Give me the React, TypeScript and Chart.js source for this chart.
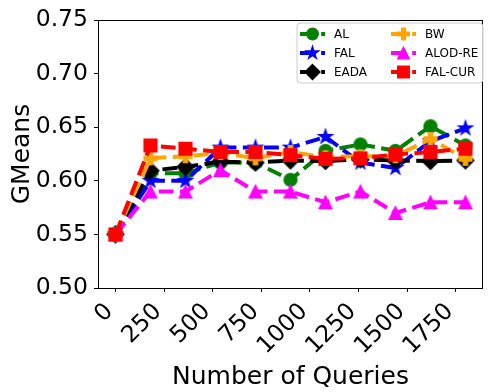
import React, { useEffect, useRef } from 'react';
import { Chart, registerables } from 'chart.js';

Chart.register(...registerables);

// ---- data ----
const QUERIES = [0, 180, 360, 540, 720, 900, 1080, 1260, 1440, 1620, 1800];
const AL = [0.55, 0.607, 0.607, 0.617, 0.617, 0.601, 0.628, 0.634, 0.628, 0.651, 0.633];
const FAL = [0.55, 0.6, 0.6, 0.631, 0.631, 0.631, 0.641, 0.617, 0.612, 0.637, 0.649];
const EADA = [0.55, 0.6095, 0.613, 0.618, 0.617, 0.619, 0.6185, 0.62, 0.619, 0.6185, 0.619];
const BW = [0.55, 0.621, 0.623, 0.626, 0.621, 0.627, 0.622, 0.623, 0.623, 0.639, 0.6205];
const ALOD_RE = [0.55, 0.59, 0.59, 0.61, 0.59, 0.59, 0.58, 0.59, 0.57, 0.58, 0.58];
const FAL_CUR = [0.55, 0.633, 0.63, 0.627, 0.627, 0.624, 0.6205, 0.621, 0.6245, 0.627, 0.63];
const SERIES_NAMES = ['AL', 'FAL', 'EADA', 'BW', 'ALOD-RE', 'FAL-CUR'];
const SERIES_VALUES = [AL, FAL, EADA, BW, ALOD_RE, FAL_CUR];
const X_TICKS = [0, 250, 500, 750, 1000, 1250, 1500, 1750];
const Y_TICKS = [0.5, 0.55, 0.6, 0.65, 0.7, 0.75];
const X_TITLE = 'Number of Queries';
const Y_TITLE = 'GMeans';

// ---- styles ----
const COLORS = ['#008000', '#0000ff', '#000000', '#ffa500', '#ff00ff', '#ff0000'];
const MARKERS = ['o', '*', 'D', 'P', '^', 's'];
const MS = 13;
const DASH = [14.8, 6.4];
const FONT = "'DejaVu Sans', sans-serif";

function drawMarker(ctx: CanvasRenderingContext2D, m: string, cx: number, cy: number, color: string, ms: number) {
  const h = ms / 2;
  ctx.save();
  ctx.fillStyle = color;
  ctx.strokeStyle = color;
  ctx.lineWidth = 1.2;
  ctx.setLineDash([]);
  ctx.lineJoin = 'miter';
  ctx.beginPath();
  if (m === 'o') {
    ctx.arc(cx, cy, h, 0, Math.PI * 2);
  } else if (m === 's') {
    ctx.rect(cx - h, cy - h, ms, ms);
  } else if (m === 'D') {
    const d = h * 1.3;
    ctx.moveTo(cx, cy - d);
    ctx.lineTo(cx + d, cy);
    ctx.lineTo(cx, cy + d);
    ctx.lineTo(cx - d, cy);
    ctx.closePath();
  } else if (m === '^') {
    ctx.moveTo(cx, cy - h);
    ctx.lineTo(cx + h, cy + h);
    ctx.lineTo(cx - h, cy + h);
    ctx.closePath();
  } else if (m === '*') {
    const R = h * 1.15;
    for (let i = 0; i < 10; i++) {
      const r = i % 2 ? R * 0.382 : R;
      const a = -Math.PI / 2 + (i * Math.PI) / 5;
      const px = cx + r * Math.cos(a);
      const py = cy + r * Math.sin(a);
      if (i === 0) ctx.moveTo(px, py);
      else ctx.lineTo(px, py);
    }
    ctx.closePath();
  } else if (m === 'P') {
    const u = h / 3;
    const pts = [[-1, -3], [1, -3], [1, -1], [3, -1], [3, 1], [1, 1], [1, 3], [-1, 3], [-1, 1], [-3, 1], [-3, -1], [-1, -1]];
    pts.forEach(([a, b], i) => {
      if (i === 0) ctx.moveTo(cx + a * u, cy + b * u);
      else ctx.lineTo(cx + a * u, cy + b * u);
    });
    ctx.closePath();
  }
  ctx.fill();
  ctx.stroke();
  ctx.restore();
}

function markerCanvas(m: string, color: string): HTMLCanvasElement {
  const c = document.createElement('canvas');
  c.width = 24;
  c.height = 24;
  const ctx = c.getContext('2d')!;
  drawMarker(ctx, m, 12, 12, color, MS);
  return c;
}

const framePlugin = {
  id: 'frameAndLegend',
  afterDraw(chart: any) {
    const { ctx, chartArea } = chart;
    ctx.save();
    // frame
    ctx.strokeStyle = '#000';
    ctx.lineWidth = 1;
    ctx.setLineDash([]);
    ctx.strokeRect(Math.round(chartArea.left) + 0.5, Math.round(chartArea.top) + 0.5,
      Math.round(chartArea.right - chartArea.left) - 1, Math.round(chartArea.bottom - chartArea.top));
    // legend
    const bx = 297, by = 23, bw = 186, bh = 60, rad = 4;
    ctx.beginPath();
    ctx.moveTo(bx + rad, by);
    ctx.arcTo(bx + bw, by, bx + bw, by + bh, rad);
    ctx.arcTo(bx + bw, by + bh, bx, by + bh, rad);
    ctx.arcTo(bx, by + bh, bx, by, rad);
    ctx.arcTo(bx, by, bx + bw, by, rad);
    ctx.closePath();
    ctx.fillStyle = 'rgba(255,255,255,0.8)';
    ctx.fill();
    ctx.strokeStyle = '#cccccc';
    ctx.lineWidth = 1;
    ctx.stroke();
    const colX = [300, 391];
    const rowY = [34, 53, 72];
    ctx.font = `12px ${FONT}`;
    ctx.textBaseline = 'middle';
    ctx.textAlign = 'left';
    SERIES_NAMES.forEach((name, i) => {
      const x0 = colX[Math.floor(i / 3)];
      const y0 = rowY[i % 3];
      ctx.beginPath();
      ctx.strokeStyle = COLORS[i];
      ctx.lineWidth = 4;
      ctx.setLineDash(DASH);
      ctx.lineCap = 'butt';
      ctx.moveTo(x0, y0);
      ctx.lineTo(x0 + 25, y0);
      ctx.stroke();
      ctx.setLineDash([]);
      drawMarker(ctx, MARKERS[i], x0 + 12.5, y0, COLORS[i], MS * 0.9);
      ctx.fillStyle = '#000';
      ctx.fillText(name, x0 + 34, y0 + 1);
    });
    ctx.restore();
  },
};

export default function App() {
  const ref = useRef<HTMLCanvasElement | null>(null);
  useEffect(() => {
    if (!ref.current) return;
    const datasets = SERIES_NAMES.map((name, i) => ({
      label: name,
      data: QUERIES.map((q, j) => ({ x: q, y: SERIES_VALUES[i][j] })),
      borderColor: COLORS[i],
      backgroundColor: COLORS[i],
      borderWidth: 4,
      borderDash: DASH,
      borderCapStyle: 'butt' as const,
      borderJoinStyle: 'round' as const,
      tension: 0,
      fill: false,
      pointStyle: markerCanvas(MARKERS[i], COLORS[i]),
      pointRadius: 8,
      order: SERIES_NAMES.length - i,
    }));
    const chart = new Chart(ref.current, {
      type: 'line',
      data: { datasets },
      options: {
        animation: false,
        responsive: false,
        maintainAspectRatio: false,
        layout: { padding: { left: 0, top: 17, right: 3.5, bottom: 0 } },
        plugins: { legend: { display: false }, tooltip: { enabled: false } },
        scales: {
          x: {
            type: 'linear',
            min: -90,
            max: 1890,
            afterBuildTicks: (s: any) => { s.ticks = X_TICKS.map((v) => ({ value: v })); },
            afterFit: (s: any) => { s.height = 104; },
            ticks: {
              autoSkip: false,
              minRotation: 45,
              maxRotation: 45,
              color: '#000',
              font: { family: FONT, size: 23.5 },
              padding: 6,
              labelOffset: -6,
              callback: (v: any) => String(v),
            },
            grid: { display: true, drawOnChartArea: false, drawTicks: true, tickLength: 4, color: '#000', lineWidth: 1 },
            border: { display: false },
            title: { display: true, text: X_TITLE, color: '#000', font: { family: FONT, size: 25 }, padding: { top: 0, bottom: 0 } },
          },
          y: {
            type: 'linear',
            min: 0.5,
            max: 0.75,
            afterBuildTicks: (s: any) => { s.ticks = Y_TICKS.map((v) => ({ value: v })); },
            afterFit: (s: any) => { s.width = 98; },
            ticks: {
              color: '#000',
              font: { family: FONT, size: 23.5 },
              padding: 6,
              callback: (v: any) => Number(v).toFixed(2),
            },
            grid: { display: true, drawOnChartArea: false, drawTicks: true, tickLength: 4, color: '#000', lineWidth: 1 },
            border: { display: false },
            title: { display: true, text: Y_TITLE, color: '#000', font: { family: FONT, size: 25 }, padding: { top: 7, bottom: 0 } },
          },
        },
      },
      plugins: [framePlugin],
    });
    return () => chart.destroy();
  }, []);
  return (
    <div style={{ position: 'fixed', left: 0, top: 0, width: 495, height: 392, background: '#fff' }}>
      <canvas ref={ref} width={495} height={392} style={{ display: 'block', width: 495, height: 392 }} />
    </div>
  );
}
